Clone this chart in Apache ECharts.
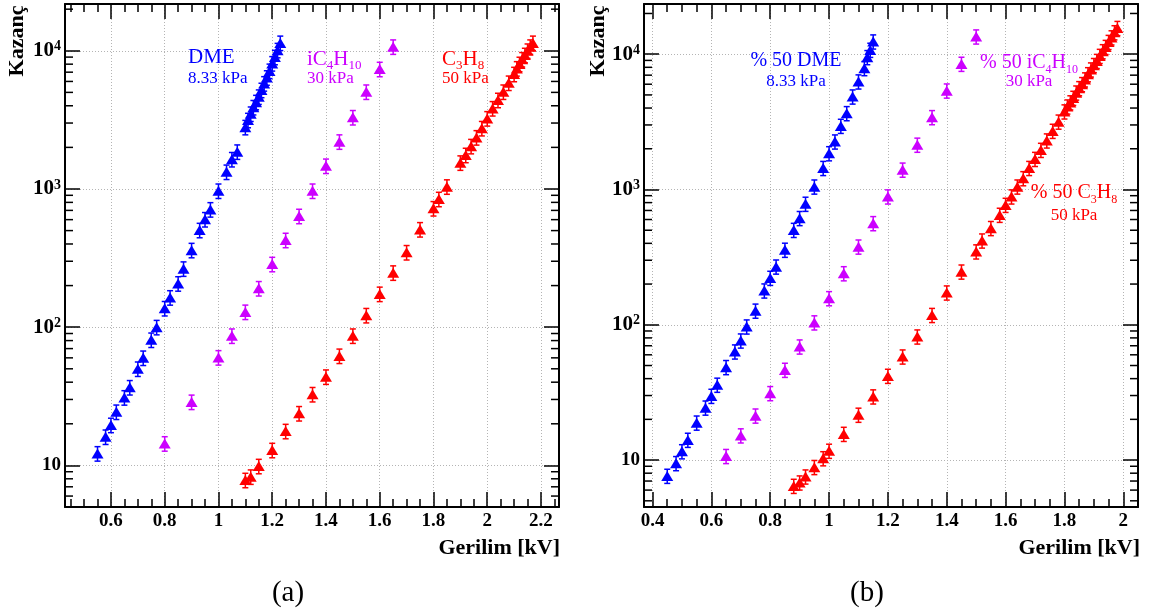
<!DOCTYPE html>
<html>
<head>
<meta charset="utf-8">
<script src="https://cdn.jsdelivr.net/npm/echarts@6/dist/echarts.min.js"></script>
<style>
  html, body { margin: 0; padding: 0; background: #ffffff; }
  #chart { width: 1164px; height: 614px; }
</style>
</head>
<body>
<div id="chart"></div>
<script>
// ---- Gain vs. voltage curves, pure gases (a) ----
const dmeA_kV = [0.55, 0.58, 0.60, 0.62, 0.65, 0.67, 0.70, 0.72, 0.75, 0.77, 0.80, 0.82, 0.85, 0.87, 0.90, 0.93, 0.95, 0.97, 1.00, 1.03, 1.05, 1.07, 1.10, 1.11, 1.12, 1.13, 1.14, 1.15, 1.16, 1.17, 1.18, 1.19, 1.20, 1.21, 1.22, 1.23];
const dmeA_gain = [12.2, 16.1, 19.6, 24.4, 31, 36.7, 50, 60, 81, 100, 137, 164, 207, 265, 361, 504, 603, 711, 970, 1330, 1640, 1860, 2800, 3150, 3500, 3900, 4250, 4650, 5200, 5800, 6400, 7150, 8100, 9000, 10100, 11400];

const isoA_kV = [0.80, 0.90, 1.00, 1.05, 1.10, 1.15, 1.20, 1.25, 1.30, 1.35, 1.40, 1.45, 1.50, 1.55, 1.60, 1.65];
const isoA_gain = [14.4, 28.8, 60.4, 86.7, 129, 191, 286, 427, 637, 970, 1470, 2200, 3300, 5050, 7370, 10700];

const propA_kV = [1.10, 1.12, 1.15, 1.20, 1.25, 1.30, 1.35, 1.40, 1.45, 1.50, 1.55, 1.60, 1.65, 1.70, 1.75, 1.80, 1.82, 1.85, 1.90, 1.92, 1.94, 1.96, 1.98, 2.00, 2.02, 2.04, 2.06, 2.08, 2.10, 2.11, 2.12, 2.13, 2.14, 2.15, 2.16, 2.17];
const propA_gain = [7.83, 8.28, 9.88, 12.9, 17.7, 23.8, 32.7, 43.8, 62, 86.7, 122, 174, 248, 348, 510, 724, 845, 1040, 1550, 1760, 2040, 2360, 2750, 3240, 3830, 4400, 5050, 5860, 6780, 7450, 8020, 8670, 9310, 10000, 10700, 11400];

// ---- Gain vs. voltage curves, 50 % mixtures (b) ----
const dmeB_kV = [0.45, 0.48, 0.50, 0.52, 0.55, 0.58, 0.60, 0.62, 0.65, 0.68, 0.70, 0.72, 0.75, 0.78, 0.80, 0.82, 0.85, 0.88, 0.90, 0.92, 0.95, 0.98, 1.00, 1.02, 1.04, 1.06, 1.08, 1.10, 1.12, 1.13, 1.14, 1.15];
const dmeB_gain = [7.64, 9.48, 11.6, 14.1, 18.9, 24.4, 29.8, 36, 48.6, 63.4, 76.4, 97, 127, 179, 222, 269, 358, 502, 614, 783, 1050, 1440, 1850, 2260, 2950, 3660, 4860, 6280, 7880, 9500, 10760, 12400];

const isoB_kV = [0.65, 0.70, 0.75, 0.80, 0.85, 0.90, 0.95, 1.00, 1.05, 1.10, 1.15, 1.20, 1.25, 1.30, 1.35, 1.40, 1.45, 1.50];
const isoB_gain = [10.7, 15.2, 21.3, 31.2, 46.4, 69, 104, 157, 240, 378, 563, 887, 1400, 2140, 3420, 5380, 8480, 13500];

const propB_kV = [0.88, 0.90, 0.92, 0.95, 0.98, 1.00, 1.05, 1.10, 1.15, 1.20, 1.25, 1.30, 1.35, 1.40, 1.45, 1.50, 1.52, 1.55, 1.58, 1.60, 1.62, 1.64, 1.66, 1.68, 1.70, 1.72, 1.74, 1.76, 1.78, 1.80, 1.81, 1.82, 1.83, 1.84, 1.85, 1.86, 1.87, 1.88, 1.89, 1.90, 1.91, 1.92, 1.93, 1.94, 1.95, 1.96, 1.97, 1.98];
const propB_gain = [6.44, 6.82, 7.55, 8.87, 10.3, 11.7, 15.6, 21.6, 29.5, 41.9, 58.2, 81.8, 118, 173, 247, 348, 419, 518, 649, 769, 887, 1050, 1210, 1440, 1680, 1960, 2300, 2710, 3170, 3770, 4100, 4400, 4750, 5200, 5600, 6000, 6500, 7100, 7700, 8300, 8900, 9700, 10500, 11300, 12300, 13300, 14500, 15600];

// relative uncertainty of each gain measurement
const GAIN_REL_ERR = 0.12;

const xTickStep = 0.2;

const SERIF = '"Liberation Serif", "DejaVu Serif", serif';
const BLUE = '#0000ff', VIOLET = '#cc00ff', RED = '#ff0000';

const panels = [
  {
    grid: { left: 65, top: 4, width: 494, height: 503 },
    xMin: 0.429, xMax: 2.267, yMin: 5, yMax: 21800,
    sets: [
      { kV: dmeA_kV, gain: dmeA_gain, color: BLUE },
      { kV: isoA_kV, gain: isoA_gain, color: VIOLET },
      { kV: propA_kV, gain: propA_gain, color: RED }
    ]
  },
  {
    grid: { left: 644, top: 4, width: 494, height: 503 },
    xMin: 0.371, xMax: 2.05, yMin: 4.5, yMax: 23500,
    sets: [
      { kV: dmeB_kV, gain: dmeB_gain, color: BLUE },
      { kV: isoB_kV, gain: isoB_gain, color: VIOLET },
      { kV: propB_kV, gain: propB_gain, color: RED }
    ]
  }
];

function kvLabel(v) {
  const k = v / xTickStep;
  if (Math.abs(k - Math.round(k)) > 1e-6) return '';
  return String(Math.round(v * 10) / 10);
}

function gainLabel(v) {
  const e = Math.log10(v);
  if (Math.abs(e - Math.round(e)) > 1e-6) return '';
  const n = Math.round(e);
  return n === 1 ? '{p|10}' : '{b|10}{s|' + n + '}';
}

// minor ticks of a log axis: 2..9 x 10^k inside the range
function logMinorValues(lo, hi) {
  const out = [];
  for (let k = Math.floor(Math.log10(lo)); k <= Math.ceil(Math.log10(hi)); k++) {
    for (let m = 2; m <= 9; m++) {
      const v = m * Math.pow(10, k);
      if (v > lo && v < hi) out.push(v);
    }
  }
  return out;
}

const frameLine = { color: '#000', width: 2 };
const tickLine = { color: '#000', width: 1.5 };
const gridLine = { color: '#b4b4b4', width: 1, type: [1, 2] };

const xAxes = [], yAxes = [], grids = [], series = [];

panels.forEach((p, i) => {
  grids.push(Object.assign({ containLabel: false }, p.grid));

  const xCommon = {
    gridIndex: i, type: 'value', min: p.xMin, max: p.xMax,
    minInterval: xTickStep, maxInterval: xTickStep, splitNumber: 9,
    axisLine: { show: true, onZero: false, lineStyle: frameLine },
    axisTick: { show: true, inside: true, length: 15, lineStyle: tickLine },
    minorTick: { show: true, splitNumber: 4, length: 8, lineStyle: tickLine }
  };
  xAxes.push(Object.assign({}, xCommon, {
    position: 'bottom',
    axisLabel: {
      formatter: kvLabel, fontFamily: SERIF, fontWeight: 'bold', fontSize: 19,
      color: '#000', margin: 5, showMinLabel: true, showMaxLabel: true
    },
    splitLine: { show: true, lineStyle: gridLine }
  }));
  xAxes.push(Object.assign({}, xCommon, {
    position: 'top',
    axisLabel: { show: false },
    splitLine: { show: false }
  }));

  const yCommon = {
    gridIndex: i, type: 'log', logBase: 10, min: p.yMin, max: p.yMax,
    axisLine: { show: true, onZero: false, lineStyle: frameLine },
    axisTick: { show: true, inside: true, length: 15, lineStyle: tickLine },
    minorTick: { show: false }
  };
  yAxes.push(Object.assign({}, yCommon, {
    position: 'left',
    axisLabel: {
      formatter: gainLabel, margin: 4, color: '#000',
      rich: {
        p: { fontFamily: SERIF, fontWeight: 'bold', fontSize: 19, color: '#000' },
        b: { fontFamily: SERIF, fontWeight: 'bold', fontSize: 21, lineHeight: 22, color: '#000' },
        s: { fontFamily: SERIF, fontWeight: 'bold', fontSize: 14, lineHeight: 14, verticalAlign: 'top', color: '#000' }
      }
    },
    splitLine: { show: true, lineStyle: gridLine }
  }));
  yAxes.push(Object.assign({}, yCommon, {
    position: 'right',
    axisLabel: { show: false },
    splitLine: { show: false }
  }));

  // minor ticks on both vertical frame edges
  series.push({
    type: 'custom', xAxisIndex: 2 * i, yAxisIndex: 2 * i, silent: true, clip: false, z: 5,
    data: logMinorValues(p.yMin, p.yMax).map(v => [p.xMin, v]),
    encode: { x: 0, y: 1 },
    renderItem: (params, api) => {
      const v = api.value(1);
      const a = api.coord([p.xMin, v]);
      const b = api.coord([p.xMax, v]);
      return {
        type: 'group', children: [
          { type: 'line', shape: { x1: a[0], y1: a[1], x2: a[0] + 8, y2: a[1] }, style: { stroke: '#000', lineWidth: 1.5 } },
          { type: 'line', shape: { x1: b[0] - 8, y1: b[1], x2: b[0], y2: b[1] }, style: { stroke: '#000', lineWidth: 1.5 } }
        ]
      };
    }
  });

  p.sets.forEach(s => {
    series.push({
      type: 'custom', xAxisIndex: 2 * i, yAxisIndex: 2 * i, silent: true, z: 3,
      itemStyle: { color: s.color },
      data: s.kV.map((x, j) => [x, s.gain[j] * (1 - GAIN_REL_ERR), s.gain[j] * (1 + GAIN_REL_ERR)]),
      encode: { x: 0, y: [1, 2] },
      renderItem: (params, api) => {
        const x = api.value(0);
        const lo = api.coord([x, api.value(1)]);
        const hi = api.coord([x, api.value(2)]);
        const st = { stroke: s.color, lineWidth: 1.5 };
        return {
          type: 'group', children: [
            { type: 'line', shape: { x1: lo[0], y1: lo[1], x2: hi[0], y2: hi[1] }, style: st },
            { type: 'line', shape: { x1: hi[0] - 3, y1: hi[1], x2: hi[0] + 3, y2: hi[1] }, style: st },
            { type: 'line', shape: { x1: lo[0] - 3, y1: lo[1], x2: lo[0] + 3, y2: lo[1] }, style: st }
          ]
        };
      }
    });
    series.push({
      type: 'scatter', xAxisIndex: 2 * i, yAxisIndex: 2 * i, z: 4,
      symbol: 'triangle', symbolSize: [12, 10],
      itemStyle: { color: s.color, opacity: 1 },
      data: s.kV.map((x, j) => [x, s.gain[j]])
    });
  });
});

function txt(x, y, text, opts) {
  return {
    type: 'text', x: x, y: y, silent: true, z: 10,
    style: Object.assign({
      text: text, fontFamily: SERIF, verticalAlign: 'middle', align: 'left'
    }, opts)
  };
}

function chemRich(color, size) {
  const sub = Math.round(size * 0.62);
  return {
    m: { fontFamily: SERIF, fontSize: size, lineHeight: size + 6, fill: color },
    d: { fontFamily: SERIF, fontSize: sub, lineHeight: sub, verticalAlign: 'bottom', fill: color }
  };
}

const graphics = [
  // panel (a) annotations
  txt(188, 57, 'DME', { fontSize: 21, fill: BLUE }),
  txt(188, 79, '8.33 kPa', { fontSize: 17, fill: BLUE }),
  txt(307, 59, '{m|iC}{d|4}{m|H}{d|10}', { rich: chemRich(VIOLET, 21), fill: VIOLET }),
  txt(307, 79, '30 kPa', { fontSize: 17, fill: VIOLET }),
  txt(442, 59, '{m|C}{d|3}{m|H}{d|8}', { rich: chemRich(RED, 21), fill: RED }),
  txt(442, 79, '50 kPa', { fontSize: 17, fill: RED }),
  // panel (b) annotations
  txt(796, 61, '% 50 DME', { fontSize: 20, fill: BLUE, align: 'center' }),
  txt(796, 82, '8.33 kPa', { fontSize: 17, fill: BLUE, align: 'center' }),
  txt(1029, 63, '{m|% 50 iC}{d|4}{m|H}{d|10}', { rich: chemRich(VIOLET, 20), fill: VIOLET, align: 'center' }),
  txt(1029, 82, '30 kPa', { fontSize: 17, fill: VIOLET, align: 'center' }),
  txt(1074, 193, '{m|% 50 C}{d|3}{m|H}{d|8}', { rich: chemRich(RED, 20), fill: RED, align: 'center' }),
  txt(1074, 216, '50 kPa', { fontSize: 17, fill: RED, align: 'center' }),
  // axis titles
  Object.assign(txt(17, 41, 'Kazanç', { fontSize: 22, fontWeight: 'bold', fill: '#000', align: 'center' }), { rotation: Math.PI / 2 }),
  Object.assign(txt(598, 41, 'Kazanç', { fontSize: 22, fontWeight: 'bold', fill: '#000', align: 'center' }), { rotation: Math.PI / 2 }),
  txt(560, 548, 'Gerilim [kV]', { fontSize: 22, fontWeight: 'bold', fill: '#000', align: 'right' }),
  txt(1140, 548, 'Gerilim [kV]', { fontSize: 22, fontWeight: 'bold', fill: '#000', align: 'right' }),
  // sub-figure captions
  txt(288, 593, '(a)', { fontSize: 29, fill: '#000', align: 'center' }),
  txt(867, 593, '(b)', { fontSize: 29, fill: '#000', align: 'center' })
];

const chart = echarts.init(document.getElementById('chart'), null, { renderer: 'canvas' });
chart.setOption({
  animation: false,
  backgroundColor: '#ffffff',
  grid: grids,
  xAxis: xAxes,
  yAxis: yAxes,
  series: series,
  graphic: graphics
});
</script>
</body>
</html>
